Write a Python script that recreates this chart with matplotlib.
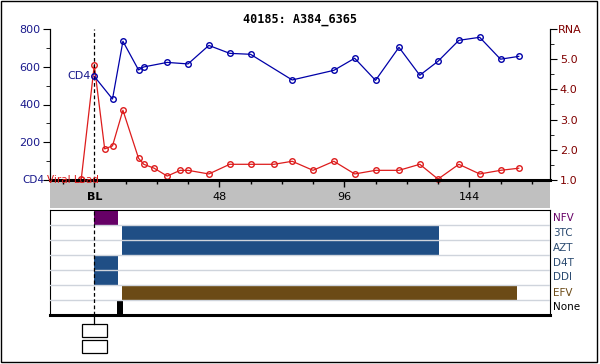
import matplotlib
matplotlib.use('Agg')
import matplotlib.pyplot as plt
from matplotlib.patches import Rectangle
from matplotlib.ticker import MultipleLocator

title = "40185: A384_6365"

cd4_t = [0, 7, 11, 17, 19, 28, 36, 44, 52, 60, 76, 92, 100, 108, 117, 125, 132, 140, 148, 156, 163]
cd4 = [549, 429, 735, 583, 599, 623, 615, 713, 671, 666, 530, 581, 645, 528, 703, 555, 629, 740, 756, 640, 655]

rna_t = [-5, 0, 4, 7, 11, 17, 19, 23, 28, 33, 36, 44, 52, 60, 69, 76, 84, 92, 100, 108, 117, 125, 132, 140, 148, 156, 163]
rna = [1.03, 4.80, 2.03, 2.13, 3.31, 1.72, 1.52, 1.39, 1.13, 1.32, 1.32, 1.20, 1.52, 1.52, 1.52, 1.62, 1.32,
       1.62, 1.20, 1.32, 1.32, 1.52, 1.03, 1.52, 1.20, 1.32, 1.39]

x_ticks = [0, 48, 96, 144]
x_labels = ["BL", "48", "96", "144"]
cd4_ticks = [0, 200, 400, 600, 800]
cd4_labels = ["", "200", "400", "600", "800"]
rna_ticks = [1.0, 2.0, 3.0, 4.0, 5.0, 6.0]
rna_labels = ["1.0", "2.0", "3.0", "4.0", "5.0", ""]

drugs = ["NFV", "3TC", "AZT", "D4T", "DDI", "EFV", "None"]
drug_colors = ["#660066", "#1f4e85", "#1f4e85", "#1f4e85", "#1f4e85", "#6b4a16", "#000000"]
label_colors = ["#660066", "#2a4a70", "#2a4a70", "#2a4a70", "#2a4a70", "#6b4a16", "#000000"]
# (row, start, end) in weeks
drug_spans = [(0, 0, 9.2), (1, 10.8, 132.4), (2, 10.8, 132.4), (3, 0, 9.2), (4, 0, 9.2),
              (5, 10.8, 162.4), (6, 8.8, 11.0)]

W, H = 600, 364
XMIN, XMAX = -17, 175
navy = "#1a1a8c"
dred = "#800000"

plt.rcParams['font.family'] = 'DejaVu Sans'
fig = plt.figure(figsize=(6, 3.64), dpi=100)


def box(x0, y0, x1, y1):
    return [x0 / W, 1 - y1 / H, (x1 - x0) / W, (y1 - y0) / H]


fig.patches.append(Rectangle((1 / W, 2 / H), 596 / W, 361 / H, transform=fig.transFigure,
                             fill=False, edgecolor='black', lw=1))

# gray band under the plot
band = fig.add_axes(box(50, 180, 550, 207.5))
band.set_facecolor('#c0c0c0')
band.set_xticks([])
band.set_yticks([])
for s in band.spines.values():
    s.set_visible(False)

ax = fig.add_axes(box(50, 29, 550, 180))
ax.patch.set_alpha(0)
ax.set_xlim(XMIN, XMAX)
ax.set_ylim(0, 800)
ax.set_yticks(cd4_ticks)
ax.set_yticklabels(cd4_labels)
ax.yaxis.set_minor_locator(MultipleLocator(100))
ax.set_xticks(x_ticks)
ax.set_xticklabels(x_labels)
ax.xaxis.set_minor_locator(MultipleLocator(12))
ax.tick_params(axis='x', which='major', length=5, pad=4, labelsize=8, width=1)
ax.tick_params(axis='x', which='minor', length=3, width=1)
ax.get_xticklabels()[0].set_fontweight('bold')
ax.tick_params(axis='y', which='major', length=5, labelsize=8, labelcolor=navy, pad=2)
ax.tick_params(axis='y', which='minor', length=3)
ax.spines['top'].set_visible(False)
ax.spines['bottom'].set_linewidth(2.2)

ax2 = ax.twinx()
ax2.set_ylim(1.0, 6.0)
ax2.set_yticks(rna_ticks)
ax2.set_yticklabels(rna_labels)
ax2.yaxis.set_minor_locator(MultipleLocator(0.5))
ax2.tick_params(axis='y', which='major', length=5, labelsize=8, labelcolor=dred, pad=2)
ax2.tick_params(axis='y', which='minor', length=3)
ax2.spines['top'].set_visible(False)
ax2.spines['bottom'].set_visible(False)

ax.axvline(0, color='black', lw=0.9, ls=(0, (3, 2)), zorder=1)
ax2.plot(rna_t, rna, color='#dd1c1c', lw=0.9, marker='o', ms=4, mfc='none', mew=1, clip_on=False)
ax.plot(cd4_t, cd4, color='#0000a8', lw=0.9, marker='o', ms=4, mfc='none', mew=1, clip_on=False, zorder=5)
ax.set_zorder(ax2.get_zorder() + 1)

fig.text(300 / W, 1 - 19 / H, title, ha='center', va='center', fontsize=8.5, fontweight='bold',
         family='DejaVu Sans Mono')
fig.text(558 / W, 1 - 30 / H, "RNA", ha='left', va='center', fontsize=8, color=dred)
fig.text(91 / W, 1 - 76 / H, "CD4", ha='right', va='center', fontsize=8, color=navy)
fig.text(44 / W, 1 - 180 / H, "CD4", ha='right', va='center', fontsize=7.5, color=navy)
fig.text(47 / W, 1 - 180 / H, "Viral Load", ha='left', va='center', fontsize=7.5, color='#dd1c1c')

# drug panel
dx = fig.add_axes(box(50, 210, 550, 315))
dx.set_xlim(XMIN, XMAX)
dx.set_ylim(len(drugs), 0)
dx.set_xticks([])
dx.set_yticks([])
for row, start, end in drug_spans:
    dx.barh(row + 0.5, end - start, left=start, height=1, color=drug_colors[row], zorder=2)
for i in range(1, len(drugs)):
    dx.axhline(i, color='#cfd4dc', lw=1, zorder=3)
dx.axvline(0, color='black', lw=0.9, ls=(0, (3, 2)), zorder=4)
dx.spines['bottom'].set_linewidth(2.2)
for i, d in enumerate(drugs):
    dx.text(1.006, 1 - (i + 0.5) / len(drugs), d, transform=dx.transAxes, ha='left', va='center',
            fontsize=7.5, color=label_colors[i])

# dashed line below panel and two empty boxes
fig.add_artist(plt.Line2D([94.3 / W, 94.3 / W], [1 - 315 / H, 1 - 324 / H], color='black', lw=0.9,
                          transform=fig.transFigure))
fig.patches.append(Rectangle((82 / W, 1 - 337 / H), 24.5 / W, 13 / H, transform=fig.transFigure,
                             fill=False, edgecolor='black', lw=0.9))
fig.patches.append(Rectangle((82 / W, 1 - 353 / H), 24.5 / W, 13 / H, transform=fig.transFigure,
                             fill=False, edgecolor='black', lw=0.9))

fig.savefig("out.png", dpi=100)
